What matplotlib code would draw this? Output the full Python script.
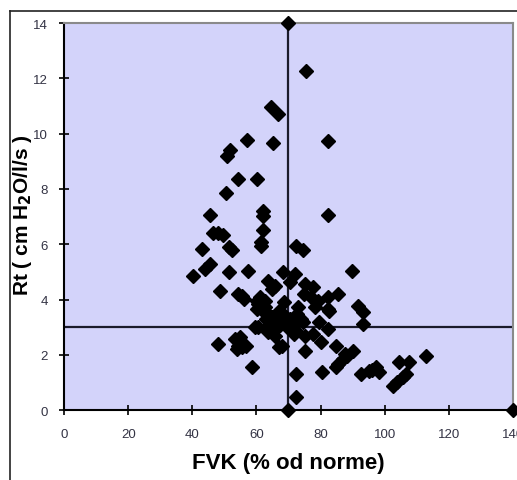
import matplotlib
matplotlib.use('Agg')
import matplotlib.pyplot as plt
from matplotlib.lines import Line2D

# FVK (% od norme) vs Rt (cm H2O/l/s)
fvk = [70, 75.6, 64.4, 66.6, 57.2, 65.3, 82.2, 51.6, 50.9, 54.4, 60.3, 50.6,
       45.6, 61.9, 62.2, 82.2, 62.2, 48.1, 46.6, 49.7, 61.3, 61.3, 43.1, 51.3,
       52.5, 72.2, 74.4, 45.6, 44.1, 40.3, 51.3, 57.5, 68.4, 71.9, 70.6, 48.75,
       54.4, 56.25, 63.75, 65.9, 65.0, 55.6, 61.25, 62.8, 60.6, 62.8, 61.9, 63.75,
       65.0, 65.9, 60.6, 63.75, 65.9, 55.0, 68.4, 70.6, 72.2, 69.0, 73.75, 74.4,
       73.1, 72.8, 75.3, 77.5, 74.7, 76.9, 79.1, 78.4, 72.2, 75.3, 77.5, 80.0,
       82.2, 85.6, 82.2, 82.5, 89.7, 91.6, 93.1, 93.1, 79.4, 82.2, 48.1, 53.4,
       54.4, 55.6, 54.0, 66.9, 68.1, 71.6, 75.3, 84.7, 90.0, 88.4, 86.9, 85.6,
       84.7, 87.5, 58.75, 72.5, 80.6, 92.5, 95.0, 97.2, 98.1, 96.0, 102.5, 104.0,
       105.6, 106.6, 104.4, 107.5, 112.8, 72.5, 70, 140, 60.3, 60.3, 59.7, 56.6,
       64.0, 66.5, 67.5, 69.5, 71.0, 63.0, 67.0, 68.5]
rt = [14.0, 12.25, 10.98, 10.7, 9.78, 9.67, 9.75, 9.42, 9.2, 8.37, 8.37, 7.86,
      7.07, 7.2, 7.03, 7.07, 6.5, 6.4, 6.4, 6.35, 6.08, 5.95, 5.83, 5.9,
      5.8, 5.94, 5.8, 5.29, 5.1, 4.85, 5.0, 5.04, 5.0, 4.93, 4.64, 4.31,
      4.2, 4.02, 4.67, 4.49, 4.38, 4.13, 4.09, 3.95, 3.84, 3.73, 3.59, 3.48,
      3.37, 3.22, 3.0, 2.83, 2.68, 2.64, 3.48, 3.3, 3.19, 3.22, 3.3, 3.19,
      3.73, 3.48, 4.56, 4.46, 4.2, 4.09, 3.95, 3.73, 2.86, 2.68, 2.75, 2.46,
      4.09, 4.2, 3.66, 3.59, 5.04, 3.77, 3.55, 3.12, 3.19, 2.93, 2.4, 2.57,
      2.32, 2.28, 2.2, 2.28, 2.32, 2.75, 2.14, 2.32, 2.14, 1.96, 1.85, 1.67,
      1.56, 2.05, 1.56, 1.3, 1.38, 1.3, 1.41, 1.56, 1.38, 1.45, 0.87, 1.01,
      1.2, 1.3, 1.74, 1.74, 1.96, 0.47, 0.0, 0.0, 3.95, 3.66, 3.0, 2.32,
      3.1, 3.0, 3.1, 3.0, 2.95, 3.3, 3.6, 3.9]

x_ticks = [0, 20, 40, 60, 80, 100, 120, 140]
y_ticks = [0, 2, 4, 6, 8, 10, 12, 14]
fvk_ref = 70
rt_ref = 3

plt.rcParams['font.family'] = ['Liberation Sans', 'DejaVu Sans']

fig = plt.figure(figsize=(5.17, 4.81), dpi=100)
ax = fig.add_axes([0.124, 0.145, 0.868, 0.805])
ax.set_facecolor('#d3d3fa')

ax.axvline(fvk_ref, color='#1a1a2a', lw=1.6, zorder=2)
ax.axhline(rt_ref, color='#1a1a2a', lw=1.6, zorder=2)
ax.plot(fvk, rt, 'D', color='black', ms=7, clip_on=False, zorder=3)

ax.set_xlim(0, 140)
ax.set_ylim(0, 14)
ax.set_xticks(x_ticks)
ax.set_yticks(y_ticks)
ax.tick_params(direction='inout', length=7, width=1.2, labelsize=9.5,
               labelcolor='#333344')
ax.tick_params(axis='x', pad=9)
ax.tick_params(axis='y', pad=8)

for side in ['top', 'right']:
    ax.spines[side].set_color('#8a8a8a')
    ax.spines[side].set_linewidth(1.5)
for side in ['left', 'bottom']:
    ax.spines[side].set_color('black')
    ax.spines[side].set_linewidth(1.5)

ax.set_xlabel('FVK (% od norme)', fontsize=16, fontweight='bold', va='center')
ax.xaxis.set_label_coords(0.5, -0.134)
ax.set_ylabel('Rt ( cm H$_\\mathbf{2}$O/l/s )', fontsize=15, fontweight='bold',
              va='center')
ax.yaxis.set_label_coords(-0.093, 0.506)

# outer frame of the chart area
fig.add_artist(Line2D([0.0193, 0.0193], [0, 0.975], color='#222222', lw=1.2))
fig.add_artist(Line2D([0.0193, 1], [0.975, 0.975], color='#222222', lw=1.2))

fig.savefig('out.png', dpi=100)
